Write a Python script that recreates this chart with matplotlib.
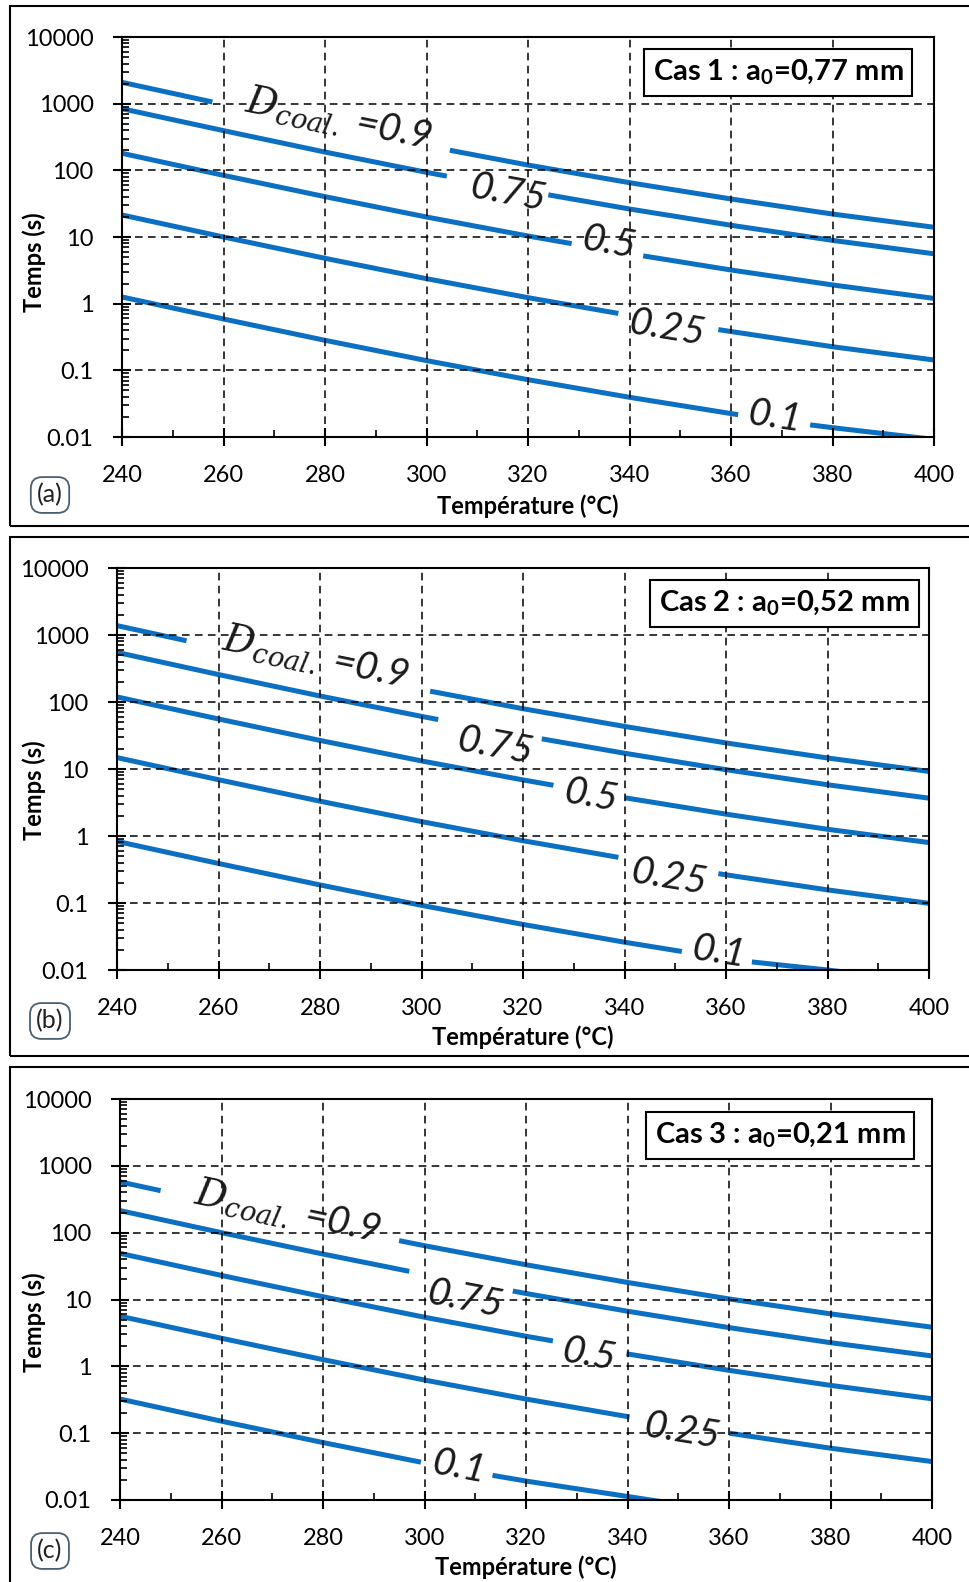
import numpy as np
import matplotlib
matplotlib.use('Agg')
import matplotlib.pyplot as plt
from matplotlib.patches import Rectangle
from matplotlib.ticker import LogLocator, NullFormatter, MultipleLocator

plt.rcParams['font.family'] = ['Lato', 'DejaVu Sans']
plt.rcParams['mathtext.fontset'] = 'custom'
plt.rcParams['mathtext.it'] = 'DejaVu Serif:italic'
plt.rcParams['mathtext.rm'] = 'DejaVu Serif'
plt.rcParams['mathtext.bf'] = 'Lato:bold'

nan = np.nan

# ---- data (nan = break for the inline label) ----
# Cas 1
T_a_09 = [240, 257.8, nan, 304.6, 320, 340, 360, 380, 400]
t_a_09 = [2089, 1060, nan, 200, 120, 65.3, 37.2, 22.1, 14.0]
T_a_075 = [240, 260, 280, 300, 304.0, nan, 324.0, 340, 360, 380, 400]
t_a_075 = [841, 394, 188, 93.3, 81.8, nan, 42.9, 26.3, 15.0, 8.9, 5.6]
T_a_05 = [240, 260, 280, 300, 320, 328.6, nan, 342.7, 360, 380, 400]
t_a_05 = [180, 84.1, 40.3, 19.95, 10.35, 7.96, nan, 5.21, 3.20, 1.91, 1.20]
T_a_025 = [240, 260, 280, 300, 320, 337.8, nan, 357.5, 380, 400]
t_a_025 = [21.4, 10.0, 4.79, 2.37, 1.23, 0.714, nan, 0.408, 0.226, 0.143]
T_a_01 = [240, 260, 280, 300, 320, 340, 361.4, nan, 375.6, 380, 400]
t_a_01 = [1.26, 0.589, 0.282, 0.140, 0.0724, 0.0394, 0.0216, nan, 0.0152, 0.0138, 0.0092]

# Cas 2
T_b_09 = [240, 253.7, nan, 301.7, 320, 340, 360, 380, 400]
t_b_09 = [1380, 820, nan, 145, 79.4, 43.2, 24.5, 14.6, 9.2]
T_b_075 = [240, 260, 280, 300, 303.3, nan, 323.7, 340, 360, 380, 400]
t_b_075 = [550, 257, 123, 61.0, 54.7, nan, 28.2, 17.2, 9.77, 5.82, 3.67]
T_b_05 = [240, 260, 280, 300, 320, 326.0, nan, 340.1, 360, 380, 400]
t_b_05 = [119, 55.8, 26.7, 13.2, 6.87, 5.72, nan, 3.72, 2.12, 1.26, 0.798]
T_b_025 = [240, 260, 280, 300, 320, 338.8, nan, 358.5, 380, 400]
t_b_025 = [14.8, 6.92, 3.31, 1.64, 0.851, 0.480, nan, 0.274, 0.157, 0.0989]
T_b_01 = [240, 260, 280, 300, 320, 340, 351.3, nan, 365.1, 380, 400]
t_b_01 = [0.832, 0.389, 0.186, 0.0923, 0.0479, 0.0260, 0.0189, nan, 0.0132, 0.0100, 0.0066]

# Cas 3
T_c_09 = [240, 248.0, nan, 295.0, 300, 320, 340, 360, 380, 400]
t_c_09 = [575, 425, nan, 76.0, 63.8, 33.1, 18.0, 10.2, 6.10, 3.85]
T_c_075 = [240, 260, 280, 297.0, nan, 317.4, 320, 340, 360, 380, 400]
t_c_075 = [214, 100, 47.9, 26.4, nan, 13.4, 12.3, 6.68, 3.80, 2.26, 1.43]
T_c_05 = [240, 260, 280, 300, 320, 325.3, nan, 339.8, 360, 380, 400]
t_c_05 = [49.0, 22.9, 11.0, 5.43, 2.82, 2.40, nan, 1.54, 0.871, 0.519, 0.327]
T_c_025 = [240, 260, 280, 300, 320, 340.4, nan, 360.1, 380, 400]
t_c_025 = [5.62, 2.63, 1.26, 0.624, 0.324, 0.175, nan, 0.0998, 0.0596, 0.0376]
T_c_01 = [240, 260, 280, 299.3, nan, 313.4, 320, 340, 360]
t_c_01 = [0.324, 0.151, 0.0724, 0.0368, nan, 0.0234, 0.0192, 0.0113, 0.0066]

curve_labels = [r'$D_{coal.}$ =0.9', '0.75', '0.5', '0.25', '0.1']
# label centres (T, t)
lab_T_a = [282.6, 316, 335.9, 347.3, 368.6]
lab_t_a = [590, 46, 8.1, 0.43, 0.020]
lab_T_b = [279, 314.4, 333.3, 348.7, 358.6]
lab_t_b = [457, 22, 3.93, 0.244, 0.0187]
lab_T_c = [273, 308, 332.3, 350.6, 306.7]
lab_t_c = [209, 10.1, 1.50, 0.106, 0.0315]

case_titles = [r'Cas 1 : a$_{\mathbf{0}}$=0,77 mm', r'Cas 2 : a$_{\mathbf{0}}$=0,52 mm',
               r'Cas 3 : a$_{\mathbf{0}}$=0,21 mm']
panel_tags = ['(a)', '(b)', '(c)']

x_ticks = [240, 260, 280, 300, 320, 340, 360, 380, 400]
y_ticks = [0.01, 0.1, 1, 10, 100, 1000, 10000]
y_tick_labels = ['0.01', '0.1', '1', '10', '100', '1000', '10000']

W, H = 969, 1582
blue = '#0b6fc2'


def fx(x):
    return x / W


def fy(y):
    return 1 - y / H


panels = [
    dict(axpx=(122, 37, 934, 437), frame=(6, 526), box=(0.808, 0.912),
         ylab=262, xlab=506, tag=495,
         curves=[(T_a_09, t_a_09), (T_a_075, t_a_075), (T_a_05, t_a_05), (T_a_025, t_a_025), (T_a_01, t_a_01)],
         labT=lab_T_a, labt=lab_t_a),
    dict(axpx=(117, 568, 929, 970), frame=(537, 1056), box=(0.822, 0.912),
         ylab=790, xlab=1037, tag=1021,
         curves=[(T_b_09, t_b_09), (T_b_075, t_b_075), (T_b_05, t_b_05), (T_b_025, t_b_025), (T_b_01, t_b_01)],
         labT=lab_T_b, labt=lab_t_b),
    dict(axpx=(120, 1099, 932, 1500), frame=(1067, 1600), box=(0.813, 0.910),
         ylab=1322, xlab=1567, tag=1551,
         curves=[(T_c_09, t_c_09), (T_c_075, t_c_075), (T_c_05, t_c_05), (T_c_025, t_c_025), (T_c_01, t_c_01)],
         labT=lab_T_c, labt=lab_t_c),
]


def slope_angle(ax, T, t, x0):
    T = np.asarray(T, float)
    t = np.asarray(t, float)
    ok = ~np.isnan(t)
    Tk, tk = T[ok], t[ok]
    i = np.searchsorted(Tk, x0) - 1
    i = min(max(i, 0), len(Tk) - 2)
    p1 = ax.transData.transform((Tk[i], tk[i]))
    p2 = ax.transData.transform((Tk[i + 1], tk[i + 1]))
    return np.degrees(np.arctan2(p2[1] - p1[1], p2[0] - p1[0]))


fig = plt.figure(figsize=(W / 100, H / 100), dpi=100)

for k, p in enumerate(panels):
    x0, y0, x1, y1 = p['axpx']
    ax = fig.add_axes([fx(x0), fy(y1), (x1 - x0) / W, (y1 - y0) / H])
    ax.set_yscale('log')
    ax.set_xlim(240, 400)
    ax.set_ylim(0.01, 10000)
    ax.set_xticks(x_ticks)
    ax.set_xticklabels([str(v) for v in x_ticks])
    ax.xaxis.set_minor_locator(MultipleLocator(10))
    ax.set_yticks(y_ticks)
    ax.set_yticklabels(y_tick_labels)
    ax.yaxis.set_minor_locator(LogLocator(base=10, subs=np.arange(2, 10), numticks=20))
    ax.yaxis.set_minor_formatter(NullFormatter())
    ax.tick_params(which='major', direction='inout', length=13, width=1.5,
                   labelsize=17, pad=14, colors='black')
    ax.tick_params(which='minor', direction='in', length=5, width=1.2)
    ax.grid(True, which='major', color='black', linestyle=(0, (5, 3.5)), linewidth=1.1)
    ax.set_axisbelow(False)
    for s in ax.spines.values():
        s.set_linewidth(1.5)

    for T, t in p['curves']:
        ax.plot(T, t, color=blue, lw=3.6, solid_capstyle='butt', zorder=2)

    for j, lab in enumerate(curve_labels):
        T, t = p['curves'][j]
        ang = slope_angle(ax, T, t, p['labT'][j])
        ax.text(p['labT'][j], p['labt'][j], lab, fontsize=28, style='italic',
                rotation=ang, rotation_mode='anchor', ha='center', va='center',
                color='#1a1a1a', zorder=4)

    ax.text(p['box'][0], p['box'][1], case_titles[k], transform=ax.transAxes,
            ha='center', va='center', fontsize=21, fontweight='bold', zorder=5,
            bbox=dict(boxstyle='square,pad=0.3', fc='white', ec='black', lw=1.5))

    fig.text(fx(34), fy(p['ylab']), 'Temps (s)', rotation=90, ha='center', va='center',
             fontsize=17, fontweight='bold')
    fig.text(fx((x0 + x1) / 2), fy(p['xlab']), 'Température (°C)', ha='center', va='center',
             fontsize=17, fontweight='bold')
    fig.text(fx(50), fy(p['tag']), panel_tags[k], ha='center', va='center', fontsize=18,
             color='#222222',
             bbox=dict(boxstyle='round,pad=0.25,rounding_size=0.45', fc='white', ec='#4a5f70', lw=1.3))

    ft, fb = p['frame']
    fig.patches.append(Rectangle((fx(10), fy(fb)), (980 - 10) / W, (fb - ft) / H,
                                 transform=fig.transFigure, fill=False, ec='black', lw=1.5))

fig.savefig('out.png', dpi=100, facecolor='white')
